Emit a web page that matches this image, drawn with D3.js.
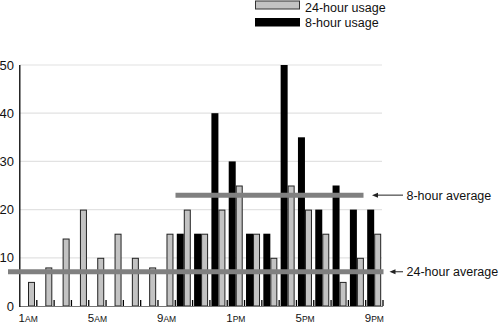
<!DOCTYPE html>
<html><head><meta charset="utf-8">
<script src="https://cdn.jsdelivr.net/npm/d3@7"></script>
<style>
html,body{margin:0;padding:0;background:#fff;}
svg{display:block;font-family:"Liberation Sans",Arial,Helvetica,sans-serif;}
</style></head>
<body>
<svg id="chart" width="500" height="326"></svg>
<script>
const hours = ["1AM","2AM","3AM","4AM","5AM","6AM","7AM","8AM","9AM","10AM","11AM","12PM","1PM","2PM","3PM","4PM","5PM","6PM","7PM","8PM","9PM"];
const usage24 = [5,8,14,20,10,15,10,8,15,20,15,20,25,15,10,25,20,15,5,10,15];
const usage8  = [null,null,null,null,null,null,null,null,null,15,15,40,30,15,15,50,35,20,25,20,20];
const tickLabels = ["1AM","5AM","9AM","1PM","5PM","9PM"];
const yTicks = [0,10,20,30,40,50];
const avg24 = 7.1;
const avg8 = 23;
const seriesNames = ["24-hour usage","8-hour usage"];
const avgNames = ["8-hour average","24-hour average"];

const svg = d3.select("#chart");
const x = d3.scaleBand().domain(hours).range([19.5, 383]).padding(0);
const sub = d3.scaleBand().domain(["8h","24h"]).range([1.5, 15.5]).padding(0);
const y = d3.scaleLinear().domain([0,50]).range([306, 65]);

// gridlines
svg.append("g").selectAll("line").data(yTicks.filter(d=>d>0)).join("line")
  .attr("x1", 20).attr("x2", 382).attr("y1", d=>y(d)).attr("y2", d=>y(d))
  .attr("stroke", "#e2e2e2").attr("stroke-width", 1.2);

// y axis labels
const yAxis = d3.axisLeft(y).tickValues(yTicks).tickSize(0).tickPadding(6);
const ya = svg.append("g").attr("transform", "translate(20,0)").call(yAxis);
ya.select(".domain").remove();
ya.selectAll("text").attr("font-size", 13).attr("fill", "#111")
  .attr("font-family", "'Liberation Sans',Arial,sans-serif");

// bars
const g = svg.append("g");
g.selectAll("rect.b8").data(hours.map((h,i)=>({h, v: usage8[i]})).filter(d=>d.v!=null)).join("rect")
  .attr("class","b8")
  .attr("x", d=>x(d.h)+sub("8h")).attr("width", sub.bandwidth())
  .attr("y", d=>y(d.v)).attr("height", d=>y(0)-y(d.v))
  .attr("fill", "#000");
g.selectAll("rect.b24").data(hours.map((h,i)=>({h, v: usage24[i]}))).join("rect")
  .attr("class","b24")
  .attr("x", d=>x(d.h)+sub("24h")+0.5).attr("width", sub.bandwidth()-1)
  .attr("y", d=>y(d.v)+0.5).attr("height", d=>y(0)-y(d.v)-0.5)
  .attr("fill", "#c3c3c3").attr("stroke", "#222").attr("stroke-width", 1);

// baseline
svg.append("line").attr("x1", 20).attr("x2", 383).attr("y1", y(0)+0.5).attr("y2", y(0)+0.5)
  .attr("stroke", "#777").attr("stroke-width", 1.2);

// small ticks at band boundaries
svg.append("g").selectAll("line").data(hours).join("line")
  .attr("x1", d=>x(d)+x.bandwidth()).attr("x2", d=>x(d)+x.bandwidth())
  .attr("y1", y(0)-6).attr("y2", y(0))
  .attr("stroke", "#000").attr("stroke-width", 1.3);

// y axis line
svg.append("line").attr("x1", 19.8).attr("x2", 19.8).attr("y1", y(50)).attr("y2", y(0)+1)
  .attr("stroke", "#000").attr("stroke-width", 1.3);

// x labels
const xl = svg.append("g").selectAll("text").data(tickLabels).join("text")
  .attr("x", d=>x(d)+x.bandwidth()/2).attr("y", 322)
  .attr("text-anchor", "middle").attr("fill", "#111");
xl.append("tspan").attr("font-size", 11.5).text(d=>d.replace(/[AP]M/,""));
xl.append("tspan").attr("font-size", 8.5).text(d=>d.match(/[AP]M/)[0]);

// average lines
svg.append("line").attr("x1", 8).attr("x2", 383.5).attr("y1", y(avg24)).attr("y2", y(avg24))
  .attr("stroke", "#808080").attr("stroke-width", 5);
svg.append("line").attr("x1", 175.5).attr("x2", 363.5).attr("y1", y(avg8)).attr("y2", y(avg8))
  .attr("stroke", "#808080").attr("stroke-width", 5);

// arrows
const annots = [
  {name: avgNames[0], v: avg8, x0: 372},
  {name: avgNames[1], v: avg24, x0: 389.5}
];
annots.forEach(a=>{
  svg.append("line").attr("x1", a.x0+5).attr("x2", 403).attr("y1", y(a.v)).attr("y2", y(a.v))
    .attr("stroke","#222").attr("stroke-width",1);
  svg.append("path").attr("d", `M${a.x0},${y(a.v)} l6,-2.5 l0,5 z`).attr("fill","#222");
  svg.append("text").attr("x", 406.5).attr("y", y(a.v)+4.5).attr("font-size", 12.5)
    .attr("fill","#111").text(a.name);
});

// legend
const leg = svg.append("g");
leg.append("rect").attr("x", 255.5).attr("y", 1).attr("width", 44).attr("height", 8)
  .attr("fill", "#c3c3c3").attr("stroke", "#333").attr("stroke-width", 1);
leg.append("rect").attr("x", 255).attr("y", 18).attr("width", 45).attr("height", 8.5)
  .attr("fill", "#000");
leg.append("text").attr("x", 305).attr("y", 11.5).attr("font-size", 12.5).attr("fill","#111").text(seriesNames[0]);
leg.append("text").attr("x", 305).attr("y", 27).attr("font-size", 12.5).attr("fill","#111").text(seriesNames[1]);
</script>
</body></html>
